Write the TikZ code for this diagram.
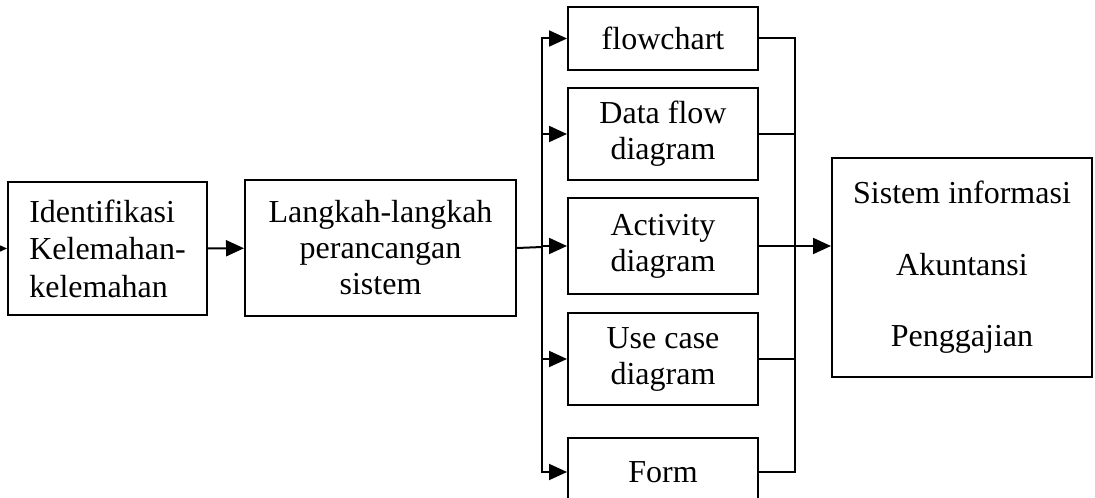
\documentclass[tikz,border=0pt]{standalone}
\usepackage{fontspec}
\setmainfont{Liberation Serif}
\usetikzlibrary{arrows.meta,positioning}

\begin{document}
\begin{tikzpicture}[x=0.5pt,y=-0.5pt,line width=1pt,>={Triangle[length=9pt,width=8pt]},
  blok/.style={draw,line width=1pt,inner sep=0pt,align=center,font=\fontsize{16}{18}\selectfont},
  kecil/.style={blok,minimum width=95pt}]
  \useasboundingbox (0,0) rectangle (1095,497);
  % kiri
  \node[blok,minimum width=99.5pt,minimum height=66.5pt,align=left,font=\fontsize{16}{18.75}\selectfont] (ident) at (107.5,248.5) {Identifikasi\\Kelemahan-\\kelemahan};
  \node[blok,minimum width=135.5pt,minimum height=68pt] (langkah) at (380.5,248) {Langkah-langkah\\perancangan\\sistem};
  % tengah
  \node[kecil,minimum height=31.5pt] (flow) at (663,38.5) {flowchart};
  \node[kecil,minimum height=46pt] (dfd) at (663,134) {Data flow\\diagram};
  \node[kecil,minimum height=48pt] (activity) at (663,246) {Activity\\diagram};
  \node[kecil,minimum height=46pt] (usecase) at (663,359) {Use case\\diagram};
  \node[kecil,minimum height=34pt] (form) at (663,472) {Form};
  % kanan
  \node[blok,minimum width=130pt,minimum height=109.5pt,font=\fontsize{16}{35.75}\selectfont] (sistem) at (962,267.5) {Sistem informasi\\Akuntansi\\Penggajian};

  \coordinate (masuk) at (-20,248.5);
  \coordinate (cabang) at (542,247);
  \coordinate (gabung) at (795,246);

  \draw[->] (masuk) -- (ident);
  \draw[->] (ident) -- (langkah);
  \draw (langkah.east) -- (cabang);
  \draw[->] (cabang) |- (flow);
  \draw[->] (cabang) |- (form);
  \foreach \n in {dfd,activity,usecase}
    \draw[->] (cabang |- \n) -- (\n);
  \draw (flow) -| (gabung);
  \draw (form) -| (gabung);
  \foreach \n in {dfd,usecase}
    \draw (\n) -- (gabung |- \n);
  \draw[->] (activity) -- (activity -| sistem.west);
\end{tikzpicture}
\end{document}
